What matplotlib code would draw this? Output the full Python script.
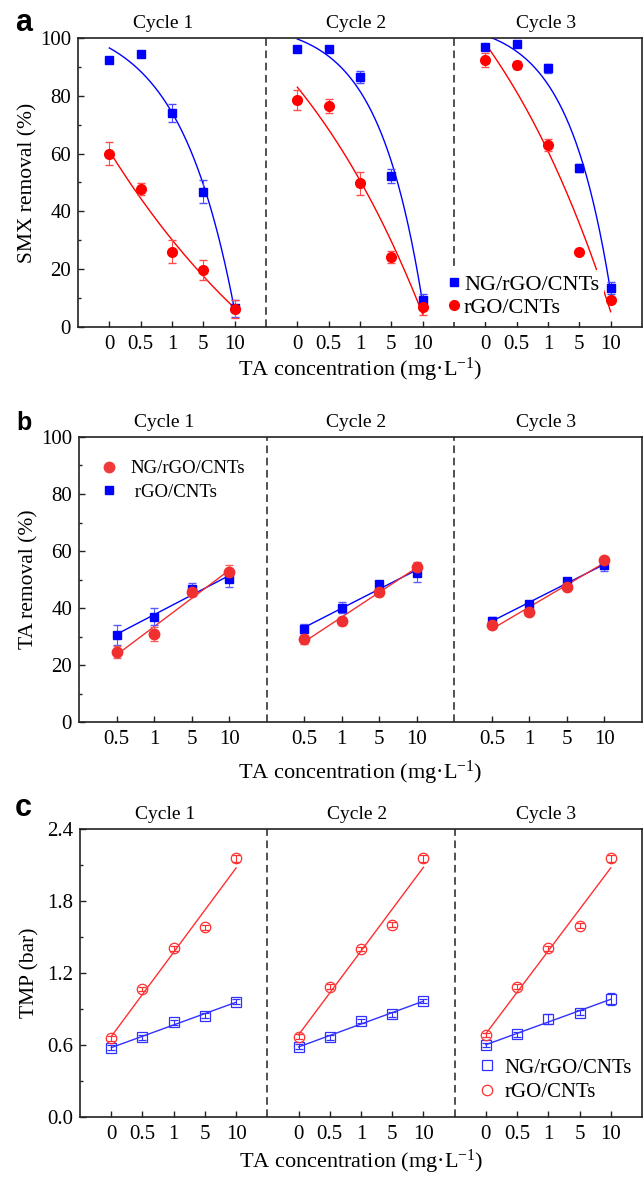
import numpy as np
import matplotlib
matplotlib.use("Agg")
import matplotlib.pyplot as plt
from matplotlib.lines import Line2D
from matplotlib.ticker import MultipleLocator

plt.rcParams['font.family'] = ['Liberation Serif', 'DejaVu Serif']
plt.rcParams['mathtext.fontset'] = 'custom'
plt.rcParams['mathtext.rm'] = 'Liberation Serif'
plt.rcParams['mathtext.it'] = 'Liberation Serif:italic'
plt.rcParams['font.size'] = 14.5

cycles = ["Cycle 1", "Cycle 2", "Cycle 3"]
conc_ac = ["0", "0.5", "1", "5", "10"]
conc_b = ["0.5", "1", "5", "10"]

# (a) SMX removal (%)
smx_ng = [[92.4, 94.5, 74.0, 46.8, 6.5],
          [96.1, 96.1, 86.5, 52.3, 9.5],
          [97.0, 97.8, 89.5, 55.0, 13.4]]
smx_ng_err = [[1.0, 1.0, 3.0, 4.0, 3.0],
              [0.8, 0.8, 2.0, 2.5, 2.0],
              [0.8, 0.8, 1.5, 1.5, 2.0]]
smx_r = [[60.0, 47.8, 26.0, 19.7, 6.2],
         [78.6, 76.5, 49.8, 24.2, 7.0],
         [92.3, 90.7, 63.0, 26.0, 9.3]]
smx_r_err = [[4.0, 2.0, 4.0, 3.5, 3.0],
             [3.5, 2.5, 4.0, 2.0, 3.0],
             [2.5, 1.5, 2.0, 1.0, 1.0]]

# (b) TA removal (%)
ta_ng = [[24.5, 30.9, 45.6, 52.6],
         [29.0, 35.4, 45.7, 54.5],
         [34.0, 38.7, 47.3, 57.0]]
ta_ng_err = [[2.0, 2.5, 1.5, 2.5],
             [1.5, 1.5, 1.5, 1.5],
             [1.0, 1.0, 1.0, 0.8]]
ta_r = [[30.5, 37.0, 46.6, 50.2],
        [32.5, 40.1, 48.3, 52.2],
        [35.5, 41.4, 49.5, 55.0]]
ta_r_err = [[3.5, 3.0, 2.0, 3.0],
            [2.0, 2.0, 1.0, 3.0],
            [1.5, 1.0, 1.0, 2.0]]

# (c) TMP (bar)
tmp_ng = [[0.578, 0.664, 0.789, 0.844, 0.961],
          [0.586, 0.664, 0.800, 0.856, 0.967],
          [0.600, 0.689, 0.817, 0.869, 0.983]]
tmp_ng_err = [[0.02, 0.02, 0.02, 0.02, 0.02],
              [0.02, 0.02, 0.02, 0.02, 0.02],
              [0.02, 0.02, 0.04, 0.02, 0.05]]
tmp_r = [[0.656, 1.067, 1.406, 1.580, 2.156],
         [0.669, 1.086, 1.400, 1.603, 2.156],
         [0.683, 1.086, 1.406, 1.594, 2.156]]
tmp_r_err = [[0.02, 0.02, 0.02, 0.02, 0.03],
             [0.02, 0.02, 0.02, 0.02, 0.03],
             [0.02, 0.02, 0.02, 0.02, 0.03]]

BLUE = '#0000ff'
RED = '#ff0000'
SPINE = '#222222'


def exp_fit(x, y):
    # y = a + b*exp(k*(x - x0)), k picked by a plain grid search
    best = None
    for k in np.linspace(-1.5, 1.5, 301):
        if abs(k) < 1e-6:
            continue
        A = np.column_stack([np.ones_like(x), np.exp(k * (x - x[0]))])
        coef = np.linalg.lstsq(A, y, rcond=None)[0]
        sse = np.sum((A @ coef - y) ** 2)
        if best is None or sse < best[0]:
            best = (sse, k, coef)
    _, k, (a, b) = best
    return lambda t: a + b * np.exp(k * (t - x[0]))


def lin_fit(x, y):
    p = np.polyfit(x, y, 1)
    return lambda t: np.polyval(p, t)


def setup_axes(ax, n, labels, ymax, ystep, yminor, ylabel, yfmt):
    step = n + 1
    ax.set_xlim(0, 3 * step)
    ax.set_ylim(0, ymax)
    pos = [c * step + 1 + i for c in range(3) for i in range(n)]
    ax.set_xticks(pos)
    ax.set_xticklabels(labels * 3)
    yt = np.arange(0, ymax + ystep / 2, ystep)
    ax.set_yticks(yt)
    ax.set_yticklabels([yfmt.format(v) for v in yt])
    ax.yaxis.set_minor_locator(MultipleLocator(yminor))
    ax.tick_params(which='both', direction='in', colors=SPINE,
                   labelcolor='black', labelsize=15)
    ax.tick_params(axis='x', length=4, width=1, pad=6)
    ax.tick_params(axis='y', which='major', length=4, width=1, pad=5)
    ax.tick_params(axis='y', which='minor', length=2.5, width=1)
    for s in ax.spines.values():
        s.set_color(SPINE)
        s.set_linewidth(1.2)
    for c in (1, 2):
        ax.axvline(c * step, color=SPINE, lw=1.1, ls=(0, (5, 3)), zorder=1)
    for frac, name in zip([0.151, 0.493, 0.83], cycles):
        ax.text(frac, 1.02, name, transform=ax.transAxes, ha='center',
                va='bottom', fontsize=14)
    ax.set_ylabel(ylabel, fontsize=15.5)
    ax.set_xlabel(u'TA concentration (mg\u00b7L$^{-1}$)', fontsize=16)


def draw_series(ax, n, vals, errs, color, ecolor, marker, ms, fit,
                open_marker=False):
    step = n + 1
    for c in range(3):
        x = np.arange(n, dtype=float) + c * step + 1
        y = np.array(vals[c])
        xf = np.linspace(x[0], x[-1], 150)
        ax.plot(xf, fit(x, y)(xf), color=color, lw=1.0, zorder=2)
        ax.errorbar(x, y, yerr=errs[c], fmt=marker, ms=ms,
                    mfc='none' if open_marker else color,
                    mec=color, mew=0.9 if open_marker else 1.0,
                    ecolor=ecolor, elinewidth=0.8, capsize=3, capthick=0.8,
                    zorder=3)


fig = plt.figure(figsize=(6.44, 11.77), dpi=100)
W, H = 644.0, 1177.0
ax_a = fig.add_axes([78 / W, 1 - 327 / H, 564 / W, 289 / H])
ax_b = fig.add_axes([79 / W, 1 - 722 / H, 563 / W, 285 / H])
ax_c = fig.add_axes([80 / W, 1 - 1117 / H, 562 / W, 288 / H])

# panel a
setup_axes(ax_a, 5, conc_ac, 100, 20, 10, 'SMX removal (%)', '{:.0f}')
draw_series(ax_a, 5, smx_ng, smx_ng_err, BLUE, '#4d4dff', 's', 6.2, exp_fit)
draw_series(ax_a, 5, smx_r, smx_r_err, RED, '#ff4d4d', 'o', 7, exp_fit)
h_a = [Line2D([], [], ls='none', marker='s', ms=6.2, color=BLUE),
       Line2D([], [], ls='none', marker='o', ms=7, color=RED)]
leg = ax_a.legend(h_a, ['NG/rGO/CNTs', 'rGO/CNTs'], loc='upper left',
                  bbox_to_anchor=((444 - 78) / 564, 1 - (270 - 38) / 289),
                  borderaxespad=0, borderpad=0.2, handlelength=0.5,
                  handletextpad=0.2, labelspacing=0.11, fontsize=16,
                  frameon=True, fancybox=False, framealpha=1)
leg.get_frame().set_edgecolor('none')
leg.set_zorder(5)

# panel b
setup_axes(ax_b, 4, conc_b, 100, 20, 10, 'TA removal (%)', '{:.0f}')
draw_series(ax_b, 4, ta_r, ta_r_err, BLUE, '#5a5aff', 's', 6, lin_fit)
draw_series(ax_b, 4, ta_ng, ta_ng_err, '#f03030', '#f06060', 'o', 7.5, lin_fit)
h_b = [Line2D([], [], ls='none', marker='o', ms=7.5, color='#f03a3a'),
       Line2D([], [], ls='none', marker='s', ms=6, color=BLUE)]
ax_b.legend(h_b, ['NG/rGO/CNTs', ' rGO/CNTs'], loc='upper left',
            bbox_to_anchor=((100 - 79) / 563, 1 - (460 - 437) / 285),
            borderaxespad=0, borderpad=0, handlelength=1.0,
            handletextpad=0.62, labelspacing=0.36, fontsize=13.5,
            frameon=False)

# panel c
setup_axes(ax_c, 5, conc_ac, 2.4, 0.6, 0.3, 'TMP (bar)', '{:.1f}')
draw_series(ax_c, 5, tmp_ng, tmp_ng_err, '#3030ff', '#3030ff', 's', 7.5,
            lin_fit, open_marker=True)
draw_series(ax_c, 5, tmp_r, tmp_r_err, '#ff3030', '#ff3030', 'o', 7.5,
            lin_fit, open_marker=True)
h_c = [Line2D([], [], ls='none', marker='s', ms=7.5, mfc='none',
              mec='#3030ff', mew=0.9),
       Line2D([], [], ls='none', marker='o', ms=7.5, mfc='none',
              mec='#ff3030', mew=0.9)]
ax_c.legend(h_c, ['NG/rGO/CNTs', 'rGO/CNTs'], loc='upper left',
            bbox_to_anchor=((477 - 80) / 562, 1 - (1058 - 829) / 288),
            borderaxespad=0, borderpad=0, handlelength=1.0,
            handletextpad=0.32, labelspacing=0.23, fontsize=15,
            frameon=False)

for ax in (ax_a, ax_b, ax_c):
    ax.yaxis.set_label_coords(-0.072, 0.5)
ax_a.xaxis.set_label_coords(0.5, -0.10)
ax_b.xaxis.set_label_coords(0.5, -0.128)
ax_c.xaxis.set_label_coords(0.5, -0.108)

fig.text(24 / W, 1 - 23 / H, 'a', family='Liberation Sans', weight='bold',
         fontsize=22, ha='center', va='center')
fig.text(24 / W, 1 - 423 / H, 'b', family='Liberation Sans', weight='bold',
         fontsize=18, ha='center', va='center')
fig.text(23 / W, 1 - 808 / H, 'c', family='Liberation Sans', weight='bold',
         fontsize=22, ha='center', va='center')

fig.savefig('out.png', dpi=100)
